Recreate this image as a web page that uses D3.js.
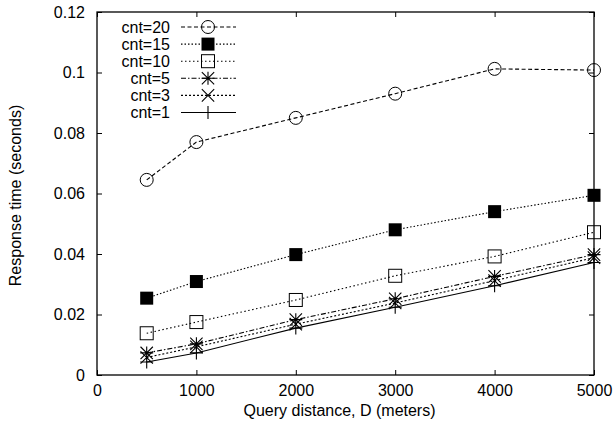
<!DOCTYPE html>
<html><head><meta charset="utf-8">
<script src="https://cdn.jsdelivr.net/npm/d3@7"></script>
<style>body{margin:0;background:#fff}text{font-family:"Liberation Sans",Arial,sans-serif}</style>
</head><body><svg id="c" width="615" height="433"></svg>
<script>
const xValues = [500, 1000, 2000, 3000, 4000, 5000];
const cnt20 = [0.0645, 0.077, 0.085, 0.093, 0.1012, 0.1008];
const cnt15 = [0.0254, 0.0309, 0.0398, 0.048, 0.054, 0.0594];
const cnt10 = [0.0138, 0.0175, 0.0248, 0.0328, 0.0392, 0.0472];
const cnt5 = [0.0073, 0.0103, 0.0183, 0.0252, 0.0326, 0.0398];
const cnt3 = [0.0058, 0.0093, 0.0168, 0.0238, 0.0312, 0.0388];
const cnt1 = [0.0043, 0.0073, 0.0155, 0.0224, 0.0295, 0.0372];
const seriesNames = ["cnt=20", "cnt=15", "cnt=10", "cnt=5", "cnt=3", "cnt=1"];
const xTicks = [0, 1000, 2000, 3000, 4000, 5000];
const yTicks = [0, 0.02, 0.04, 0.06, 0.08, 0.1, 0.12];
const xTitle = "Query distance, D (meters)";
const yTitle = "Response time (seconds)";

const series = [
  {name: seriesNames[0], vals: cnt20, dash: "4,2.5", marker: "circle"},
  {name: seriesNames[1], vals: cnt15, dash: "1.5,2", marker: "fsquare"},
  {name: seriesNames[2], vals: cnt10, dash: "1.5,2.5", marker: "osquare"},
  {name: seriesNames[3], vals: cnt5, dash: "5,2,1.5,2", marker: "star"},
  {name: seriesNames[4], vals: cnt3, dash: "2,2", marker: "cross"},
  {name: seriesNames[5], vals: cnt1, dash: null, marker: "plus"}
];

const FS = 16;
const L = 97, R = 594, T = 12, B = 375;
const x = d3.scaleLinear().domain([0, 5000]).range([L, R]);
const y = d3.scaleLinear().domain([0, 0.12]).range([B, T]);
const svg = d3.select("#c");

const fmtY = d => d === 0 ? "0" : String(+d.toFixed(2));
svg.append("g").attr("transform", `translate(0,${B})`)
  .call(d3.axisBottom(x).tickValues(xTicks).tickSizeInner(-5).tickSizeOuter(0).tickPadding(10).tickFormat(d3.format("d")))
  .call(g => { g.select(".domain").remove(); g.selectAll("text").attr("font-size", FS).attr("fill", "#000"); g.selectAll("line").attr("stroke", "#000"); });
svg.append("g").attr("transform", `translate(0,${T})`)
  .call(d3.axisTop(x).tickValues(xTicks).tickSizeInner(-5).tickSizeOuter(0).tickFormat(""))
  .call(g => { g.select(".domain").remove(); g.selectAll("line").attr("stroke", "#000"); });
svg.append("g").attr("transform", `translate(${L},0)`)
  .call(d3.axisLeft(y).tickValues(yTicks).tickSizeInner(-5).tickSizeOuter(0).tickPadding(12).tickFormat(fmtY))
  .call(g => { g.select(".domain").remove(); g.selectAll("text").attr("font-size", FS).attr("fill", "#000"); g.selectAll("line").attr("stroke", "#000"); });
svg.append("g").attr("transform", `translate(${R},0)`)
  .call(d3.axisRight(y).tickValues(yTicks).tickSizeInner(-5).tickSizeOuter(0).tickFormat(""))
  .call(g => { g.select(".domain").remove(); g.selectAll("line").attr("stroke", "#000"); });
svg.append("rect").attr("x", L).attr("y", T).attr("width", R - L).attr("height", B - T)
  .attr("fill", "none").attr("stroke", "#000").attr("stroke-width", 1.3);

svg.append("text").attr("x", (L + R) / 2 - 6).attr("y", 416).attr("text-anchor", "middle")
  .attr("font-size", FS).text(xTitle);
svg.append("text").attr("transform", `translate(21,${(T + B) / 2 + 2}) rotate(-90)`)
  .attr("text-anchor", "middle").attr("font-size", FS).text(yTitle);

function marker(g, type, cx, cy) {
  const s = 6.5;
  if (type === "circle") g.append("circle").attr("cx", cx).attr("cy", cy).attr("r", s).attr("fill", "none").attr("stroke", "#000").attr("stroke-width", 1);
  else if (type === "fsquare") g.append("rect").attr("x", cx - s).attr("y", cy - s).attr("width", 2 * s).attr("height", 2 * s).attr("fill", "#000");
  else if (type === "osquare") g.append("rect").attr("x", cx - s).attr("y", cy - s).attr("width", 2 * s).attr("height", 2 * s).attr("fill", "none").attr("stroke", "#000").attr("stroke-width", 1);
  else {
    let p = "";
    const d = s * 0.95;
    if (type === "plus" || type === "star") p += `M${cx - s},${cy}H${cx + s}M${cx},${cy - s}V${cy + s}`;
    if (type === "cross" || type === "star") p += `M${cx - d},${cy - d}L${cx + d},${cy + d}M${cx - d},${cy + d}L${cx + d},${cy - d}`;
    g.append("path").attr("d", p).attr("stroke", "#000").attr("stroke-width", 1.1).attr("fill", "none");
  }
}

const line = d3.line().x((d, i) => x(xValues[i])).y(d => y(d));
series.forEach(s => {
  const g = svg.append("g");
  g.append("path").attr("d", line(s.vals)).attr("fill", "none").attr("stroke", "#000")
    .attr("stroke-width", 1.1).attr("stroke-dasharray", s.dash);
  s.vals.forEach((v, i) => marker(g, s.marker, x(xValues[i]), y(v)));
});

series.forEach((s, i) => {
  const ly = 27 + i * 17.1;
  const g = svg.append("g");
  g.append("text").attr("x", 170).attr("y", ly).attr("dy", "0.35em").attr("text-anchor", "end").attr("font-size", FS).text(s.name);
  g.append("line").attr("x1", 181).attr("x2", 236).attr("y1", ly).attr("y2", ly).attr("stroke", "#000").attr("stroke-width", 1.1).attr("stroke-dasharray", s.dash);
  marker(g, s.marker, 208, ly);
});
</script></body></html>
